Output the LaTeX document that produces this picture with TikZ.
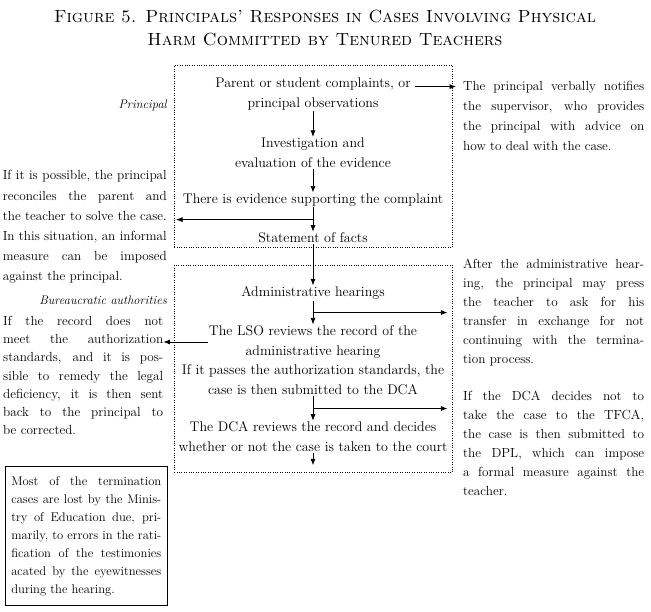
\documentclass[tikz,border=0pt]{standalone}
\usepackage{tikz}
\usetikzlibrary{positioning,calc,arrows.meta}

\begin{document}
\begin{tikzpicture}[
x=1pt,y=-1pt,
flow/.style={
  align=center,
  inner sep=1pt,
  font=\fontsize{14}{20}\selectfont
  },
note/.style={
  align=justify,
  inner sep=0pt,
  font=\fontsize{13.2}{19}\selectfont
  },
actor/.style={
  inner sep=0pt,
  anchor=east,
  font=\fontsize{12.4}{15}\selectfont\itshape
  },
zone/.style={
  draw,
  dotted,
  inner sep=0pt,
  anchor=north west
  },
link/.style={
  ->,
  line width=0.7pt
  },
>={Latex[length=6.5pt,width=5pt]}
]
\useasboundingbox (0,0) rectangle (651,612);

% title
\node[font=\fontsize{17.6}{23}\selectfont\scshape, align=center] (title) at (325,28)
  {Figure 5. Principals’ Responses in Cases Involving Physical\\
   Harm Committed by Tenured Teachers};

% the two levels
\node[zone, minimum width=278pt, minimum height=182pt] (prinzone) at (174,65) {};
\node[zone, minimum width=278pt, minimum height=207pt] (burzone) at (174,265) {};
\node[actor] (prinlabel) at (167,105) {Principal};
\node[actor] (burlabel) at (167,300) {Bureaucratic authorities};

% main flow
\node[flow] (complaint) at (313,94) {Parent or student complaints, or\\principal observations};
\node[flow] (invest) at (313,153) {Investigation and\\evaluation of the evidence};
\node[flow] (evidence) at (313,200) {There is evidence supporting the complaint};
\node[flow] (facts) at (313,238) {Statement of facts};
\node[flow] (hearings) at (313,293) {Administrative hearings};
\node[flow] (lso) at (313,342) {The LSO reviews the record of the\\administrative hearing};
\node[flow] (passes) at (313,380) {If it passes the authorization standards, the\\case is then submitted to the DCA};
\node[flow] (dca) at (313,437) {The DCA reviews the record and decides\\whether or not the case is taken to the court};

% side notes
\node[note, text width=181pt, anchor=north west, font=\fontsize{13.2}{20}\selectfont] (notify) at (463,81)
  {The principal verbally notifies\linebreak the supervisor, who provides\linebreak
   the principal with advice on\linebreak how to deal with the case.};
\node[note, text width=164pt, anchor=north east, font=\fontsize{13.2}{20.2}\selectfont] (reconcile) at (167,170.5)
  {If it is possible, the principal\linebreak reconciles the parent and\linebreak
   the teacher to solve the case.\linebreak In this situation, an informal\linebreak
   measure can be imposed\linebreak against the principal.};
\node[note, text width=181pt, anchor=north west] (after) at (463,259)
  {After the administrative hear-\linebreak ing, the principal may press\linebreak
   the teacher to ask for his\linebreak transfer in exchange for not\linebreak
   continuing with the termina-\linebreak tion process.};
\node[note, text width=160pt, anchor=north west, font=\fontsize{13.2}{18.2}\selectfont] (record) at (3,316)
  {If the record does not\linebreak meet the authorization\linebreak
   standards, and it is pos-\linebreak sible to remedy the legal\linebreak
   deficiency, it is then sent\linebreak back to the principal to\linebreak be corrected.};
\node[note, text width=181pt, anchor=north west] (dpl) at (463,391)
  {If the DCA decides not to\linebreak take the case to the TFCA,\linebreak
   the case is then submitted to\linebreak the DPL, which can impose\linebreak
   a formal measure against the\linebreak teacher.};
\node[note, draw, line width=0.6pt, text width=150pt, inner xsep=6pt, inner ysep=10pt, anchor=north west,
  font=\fontsize{12.6}{18}\selectfont] (lost) at (5,466)
  {Most of the termination\linebreak cases are lost by the Minis-\linebreak
   try of Education due, pri-\linebreak marily, to errors in the rati-\linebreak
   fication of the testimonies\linebreak acated by the eyewitnesses\linebreak
   during the hearing.};

% connectors
\coordinate (notifyarrow) at ([xshift=3pt,yshift=-10pt]complaint.north east);
\draw[link, shorten >=7pt] (notifyarrow) -- (notifyarrow -| notify.west);
\draw[link] (complaint) -- (invest);
\draw[link] (invest) -- (evidence);
\draw[link] (evidence) -- (facts);
\coordinate (informal) at ($(evidence.south)!0.5!(facts.north)$);
\draw[link, shorten >=2pt] (informal) -- (informal -| prinzone.west);
\draw[link] (facts) -- (hearings);
\draw[link] (hearings) -- (lso);
\coordinate (transfer) at ($(hearings.south)!0.5!(lso.north)$);
\draw[link, shorten >=5pt] (transfer) -- (transfer -| burzone.east);
\draw[link] (lso.west) -- (lso.west -| record.east);
\draw[link] (passes) -- (dca);
\coordinate (formal) at ($(passes.south)!0.5!(dca.north)$);
\draw[link, shorten >=5pt] (formal) -- (formal -| burzone.east);
\coordinate (court) at ($(dca.south)+(0,12)$);
\draw[link] (dca) -- (court);
\end{tikzpicture}
\end{document}
